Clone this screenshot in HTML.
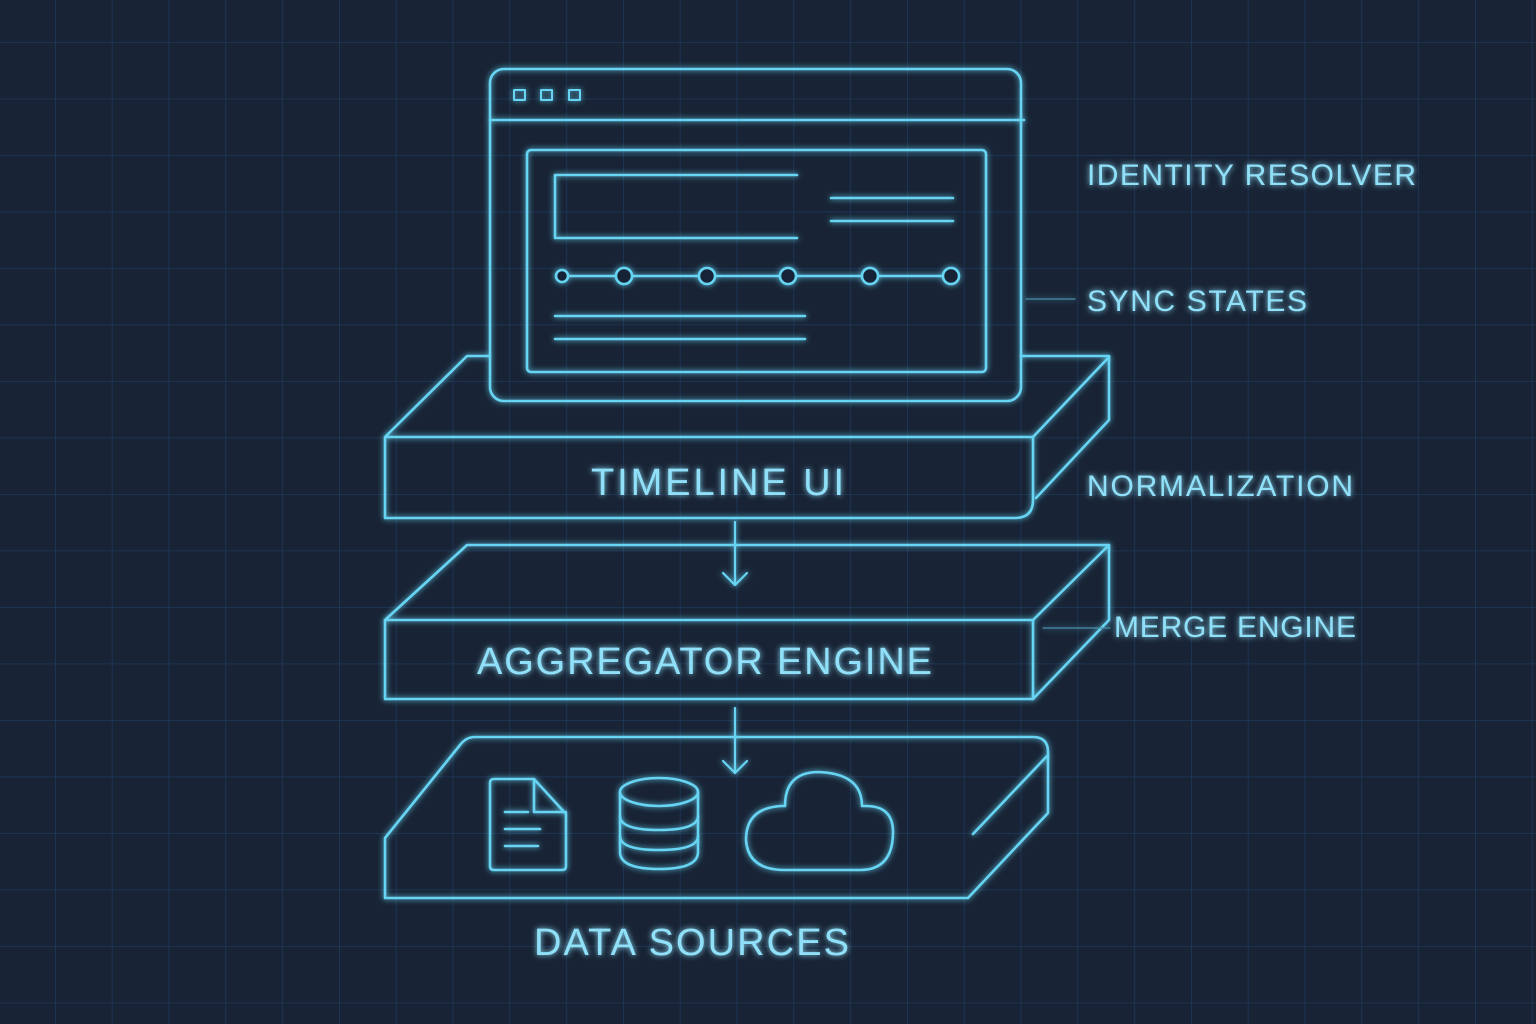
<!DOCTYPE html>
<html><head><meta charset="utf-8"><style>
html,body{margin:0;padding:0;background:#182436;}
svg{display:block}
</style></head><body>
<svg width="1536" height="1024" viewBox="0 0 1536 1024" xmlns="http://www.w3.org/2000/svg">
<defs>
<pattern id="g" x="55" y="42" width="56.8" height="56.5" patternUnits="userSpaceOnUse">
<path d="M0 0H56.8M0 0V56.5" stroke="#1e385b" stroke-width="1.5" fill="none"/>
</pattern>
<filter id="glow" x="-10%" y="-10%" width="120%" height="120%">
<feGaussianBlur stdDeviation="3" result="b"/>
<feMerge><feMergeNode in="b"/><feMergeNode in="SourceGraphic"/></feMerge>
</filter>
</defs>
<rect width="1536" height="1024" fill="#182436"/>
<rect width="1536" height="1024" fill="url(#g)"/>
<g fill="none" stroke="#66d4f2" stroke-width="2.6" stroke-linejoin="round" stroke-linecap="round" filter="url(#glow)">
<path d="M490 356H467L385 437V518H1015Q1033 518 1033 500V437H385"/>
<path d="M1021 356H1109V420L1036 498"/>
<path d="M1033 437L1109 357"/>
<rect x="490" y="69" width="531" height="332" rx="14"/>
<path d="M490 120H1024"/>
<rect x="514" y="90" width="11" height="10" stroke-width="2"/>
<rect x="541" y="90" width="11" height="10" stroke-width="2"/>
<rect x="569" y="90" width="11" height="10" stroke-width="2"/>
<rect x="527" y="150" width="459" height="222" rx="4"/>
<path d="M797 175H555V238H797"/>
<path d="M831 198H953M831 221H953"/>
<path d="M568 276H951"/>
<circle cx="562" cy="276" r="6" fill="#182436"/>
<circle cx="624" cy="276" r="8" fill="#182436"/>
<circle cx="707" cy="276" r="8" fill="#182436"/>
<circle cx="788" cy="276" r="8" fill="#182436"/>
<circle cx="870" cy="276" r="8" fill="#182436"/>
<circle cx="951" cy="276" r="8" fill="#182436"/>
<path d="M555 316H805M555 339H805"/>
<path d="M385 620L467 545H1109V620L1033 699H385Z"/>
<path d="M385 620H1033V699"/>
<path d="M1033 620L1109 545"/>
<path d="M735 522V585M723 573L735 585L747 573" stroke-width="2.2"/>
<path d="M735 708V773M723 761L735 773L747 761" stroke-width="2.2"/>
<path d="M385 838V898H968L1048 813V752Q1048 737 1033 737H475Q466 737 460 745Z"/>
<path d="M1048 755L973 834"/>
<path d="M494 779H505H534L566 814V866Q566 870 562 870H494Q490 870 490 866V783Q490 779 494 779Z"/>
<path d="M534 779V812H566"/>
<path d="M505 812H528M505 829H540M505 846H538"/>
<ellipse cx="659" cy="792" rx="39" ry="14"/>
<path d="M620 792V852Q620 869 659 869Q698 869 698 852V792"/>
<path d="M620 816Q620 830 659 830Q698 830 698 816"/>
<path d="M620 836Q620 850 659 850Q698 850 698 836"/>
<path d="M785 870H860Q893 870 893 832Q893 806 866 806H862Q862 773 817 772Q785 773 785 806H781Q746 808 746 840Q748 870 785 870Z"/>
<path d="M1026 299H1075M1043 628H1110" stroke="#4a8ea8" stroke-width="1.2"/>
</g>
<g fill="#8fe0f8" font-family="Liberation Sans, sans-serif" filter="url(#glow)">
<text x="1087" y="185" font-size="30" textLength="329" lengthAdjust="spacing">IDENTITY RESOLVER</text>
<text x="1087" y="311" font-size="30" textLength="220" lengthAdjust="spacing">SYNC STATES</text>
<text x="1087" y="496" font-size="30" textLength="266" lengthAdjust="spacing">NORMALIZATION</text>
<text x="1114" y="637" font-size="30" textLength="242" lengthAdjust="spacing">MERGE ENGINE</text>
<text x="591" y="495" font-size="38" textLength="253" lengthAdjust="spacing">TIMELINE UI</text>
<text x="477" y="674" font-size="38" textLength="455" lengthAdjust="spacing">AGGREGATOR ENGINE</text>
<text x="534" y="955" font-size="38" textLength="315" lengthAdjust="spacing">DATA SOURCES</text>
</g>
</svg>
</body></html>
